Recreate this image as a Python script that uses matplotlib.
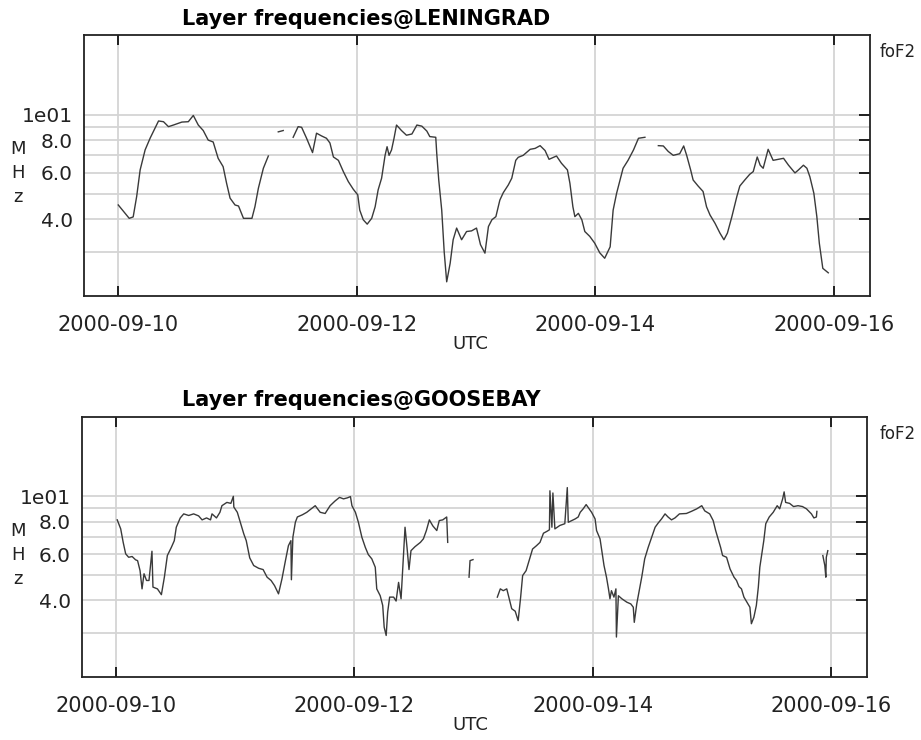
import numpy as np
import pandas as pd
import matplotlib
matplotlib.use("Agg")
import matplotlib.pyplot as plt
from matplotlib.ticker import FixedLocator, NullFormatter

nan = np.nan

# hours after 2000-09-10 00:00 UTC, foF2 in MHz (nan = no data)
len_hours = [0.0, 2.2, 3.0, 3.7, 4.4, 5.4, 6.4, 7.4, 8.1, 9.1, 10.1, 11.1, 12.8, 14.1,
             15.1, 16.1, 17.1, 18.1, 19.1, 20.1, 21.1, 21.8, 22.5, 23.5, 24.2, 25.2,
             26.9, 27.5, 28.2, 29.2, 30.2, 31.2, 32.2, 33.2, 34.2, 35.2, 36.2, 36.9,
             37.9, 39.1, 39.9, 40.9, 41.9, 42.6, 43.3, 44.3, 45.3, 46.3, 47.3, 48.2,
             48.6, 49.3, 50.1, 51.0, 51.7, 52.3, 53.0, 53.7, 54.1, 54.5, 55.0, 55.5,
             56.0, 57.0, 58.0, 59.1, 60.1, 61.1, 62.1, 62.7, 63.9, 64.1, 64.5, 65.1,
             65.6, 66.1, 66.8, 67.4, 68.1, 69.1, 70.1, 71.1, 72.1, 72.9, 73.8, 74.5,
             75.2, 76.0, 76.8, 77.5, 78.5, 79.2, 80.0, 80.5, 81.5, 82.9, 83.9, 84.9,
             85.9, 86.7, 87.6, 88.2, 89.2, 90.4, 90.9, 91.5, 91.9, 92.6, 93.3, 93.9,
             94.9, 95.9, 96.9, 97.9, 99.0, 99.6, 100.3, 101.0, 101.6, 102.6, 103.7,
             104.7, 106.0, 107.3, 108.7, 109.7, 110.7, 111.7, 113.0, 113.8, 114.4,
             115.2, 115.7, 116.7, 117.7, 118.4, 119.1, 120.1, 121.1, 121.9, 122.6,
             123.5, 124.5, 125.1, 126.1, 127.1, 127.8, 128.6, 129.2, 129.8, 130.8,
             131.8, 132.8, 133.9, 134.9, 136.2, 136.9, 137.9, 138.6, 139.2, 140.0,
             140.6, 141.1, 141.8, 142.9]
len_mhz = [4.53, 4.03, 4.08, 4.88, 6.16, 7.34, 8.13, 8.88, 9.46, 9.4, 9.0, 9.13, 9.37, 9.4,
           9.93, 9.13, 8.7, 8.0, 7.87, 6.82, 6.34, 5.48, 4.81, 4.53, 4.49, 4.03,
           4.03, 4.46, 5.25, 6.25, 6.96, nan, 8.6, 8.7, nan, 8.2, 9.0, 8.95,
           8.13, 7.17, 8.5, 8.3, 8.13, 7.8, 6.9, 6.7, 6.07, 5.56, 5.2, 4.95,
           4.33, 3.98, 3.83, 4.03, 4.46, 5.17, 5.73, 7.0, 7.55, 7.0, 7.34, 8.13,
           9.13, 8.7, 8.35, 8.44, 9.13, 9.04, 8.66, 8.25, 8.2, 7.1, 5.64, 4.33,
           3.0, 2.31, 2.72, 3.34, 3.7, 3.34, 3.59, 3.61, 3.7, 3.2, 2.97, 3.75,
           3.98, 4.09, 4.73, 5.05, 5.4, 5.73, 6.7, 6.88, 7.0, 7.38, 7.44, 7.62,
           7.3, 6.76, 6.88, 6.96, 6.53, 6.16, 5.48, 4.46, 4.09, 4.21, 3.98, 3.59,
           3.44, 3.24, 2.98, 2.84, 3.14, 4.33, 5.02, 5.64, 6.25, 6.7, 7.34,
           8.13, 8.2, nan, 7.62, 7.6, 7.24, 7.0, 7.1, 7.6, 7.0,
           6.16, 5.64, 5.35, 5.1, 4.46, 4.15, 3.86, 3.54, 3.34, 3.54,
           4.09, 4.88, 5.35, 5.64, 5.93, 6.07, 6.9, 6.42, 6.25, 7.38,
           6.7, 6.76, 6.82, 6.42, 6.0, 6.16, 6.42, 6.25, 5.8, 5.02,
           4.09, 3.24, 2.6, 2.5]

goose_hours = [0.2, 0.9, 1.4, 1.9, 2.5, 3.2, 3.9, 4.3, 4.8, 5.2, 5.6, 6.1, 6.6, 6.9, 7.2,
               7.4, 8.3, 9.1, 9.7, 10.3, 11.1, 11.7, 12.1, 12.9, 13.6, 14.6, 15.6, 16.6,
               17.3, 18.2, 19.0, 19.3, 20.2, 20.9, 21.3, 22.3, 23.1, 23.6, 23.7, 24.4,
               25.0, 25.7, 26.2, 26.9, 27.7, 28.7, 29.6, 30.4, 31.2, 31.9, 32.7, 33.4,
               34.1, 34.7, 35.2, 35.3, 35.6, 36.1, 36.5, 37.5, 38.4, 39.1, 40.1, 41.1,
               42.1, 43.1, 44.1, 45.0, 45.8, 46.6, 47.2, 47.5, 48.2, 48.8, 49.5, 50.2,
               50.8, 51.5, 52.2, 52.5, 53.2, 53.7, 54.0, 54.4, 54.7, 55.1, 55.9, 56.4,
               56.9, 57.4, 57.8, 58.2, 58.6, 59.0, 59.4, 60.2, 61.3, 61.9, 62.5, 63.1,
               63.8, 64.6, 65.1, 65.8, 66.6, 66.8, 69.0, 71.1, 71.3, 71.9, 74.0, 76.8,
               77.4, 78.0, 78.7, 79.2, 79.7, 80.4, 81.0, 81.5, 81.9, 82.6, 83.3, 83.9,
               84.7, 85.4, 86.1, 86.8, 87.3, 87.4, 87.8, 88.0, 88.4, 89.4, 90.4, 90.9,
               91.1, 91.8, 92.5, 93.1, 93.5, 94.1, 94.7, 95.3, 95.8, 96.5, 96.8, 97.5,
               97.8, 98.3, 98.8, 99.2, 99.5, 99.8, 100.3, 100.7, 100.8, 101.2, 101.9,
               102.9, 103.7, 104.2, 104.4, 104.9, 105.4, 105.9, 106.5, 107.2, 107.9,
               108.6, 109.2, 109.9, 110.6, 111.2, 111.9, 112.6, 113.5, 114.9, 115.9,
               117.0, 118.0, 118.6, 119.6, 120.3, 120.8, 121.3, 121.8, 122.2, 123.0,
               123.7, 124.5, 125.0, 125.5, 126.0, 126.5, 127.1, 127.7, 128.0, 128.5,
               129.0, 129.4, 129.7, 130.2, 130.5, 130.9, 131.6, 132.4, 133.2, 133.7,
               134.3, 134.6, 134.9, 135.7, 136.5, 137.4, 138.3, 139.1, 140.1, 140.6,
               141.1, 141.2, 141.8, 142.4, 142.8, 143.0, 143.1, 143.4]
goose_mhz = [8.13, 7.51, 6.67, 6.03, 5.85, 5.89, 5.72, 5.68, 5.2, 4.43, 5.06, 4.77, 4.77, 5.44, 6.17,
             4.5, 4.43, 4.21, 4.91, 5.94, 6.38, 6.77, 7.62, 8.27, 8.57, 8.45, 8.57, 8.42,
             8.13, 8.27, 8.13, 8.57, 8.27, 8.69, 9.21, 9.48, 9.4, 10.0, 9.1, 8.69,
             7.96, 7.19, 6.77, 5.82, 5.44, 5.31, 5.25, 4.91, 4.77, 4.56, 4.24, 4.84,
             5.68, 6.48, 6.77, 4.8, 6.98, 7.96, 8.34, 8.5, 8.69, 8.9, 9.21, 8.69,
             8.6, 9.21, 9.6, 9.91, 9.78, 9.87, 9.98, 9.21, 8.69, 7.96, 6.98, 6.38,
             5.99, 5.77, 5.36, 4.43, 4.17, 3.83, 3.16, 2.94, 3.61, 4.12, 4.12, 3.98,
             4.69, 4.06, 5.52, 7.62, 6.38, 5.25, 6.2, 6.42, 6.67, 6.88, 7.4, 8.13,
             7.71, 7.4, 8.08, 8.13, 8.34, 6.67, nan, 4.91, 5.68, 5.73, nan, 4.12,
             4.43, 4.36, 4.43, 4.06, 3.72, 3.64, 3.35, 4.12, 4.98, 5.2, 5.77, 6.29,
             6.48, 6.67, 7.23, 7.35, 7.45, 10.5, 7.62, 10.3, 7.51, 7.74, 7.86, 10.8,
             7.96, 8.08, 8.2, 8.34, 8.69, 8.96, 9.3, 8.96, 8.69, 8.2, 7.4, 6.88,
             6.29, 5.44, 4.91, 4.43, 4.06, 4.36, 4.12, 4.43, 2.9, 4.17, 4.06,
             3.94, 3.88, 3.77, 3.3, 3.88, 4.36, 4.91, 5.77, 6.38, 6.98,
             7.62, 7.9, 8.2, 8.57, 8.34, 8.13, 8.27, 8.57, 8.6, 8.76,
             8.96, 9.21, 8.8, 8.57, 8.08, 7.4, 6.88, 6.38, 5.94, 5.85,
             5.28, 4.91, 4.77, 4.52, 4.43, 4.12, 3.94, 3.77, 3.26, 3.45,
             3.83, 4.5, 5.36, 6.2, 6.77, 7.86, 8.34, 8.69, 9.21, 8.96,
             9.78, 10.4, 9.48, 9.4, 9.14, 9.21, 9.14, 8.96, 8.57, 8.27,
             8.34, 8.76, nan, 5.94, 5.44, 4.91, 5.85, 6.2]

stations = ["LENINGRAD", "GOOSEBAY"]
date_ticks = ["2000-09-10", "2000-09-12", "2000-09-14", "2000-09-16"]
y_major = [4, 6, 8, 10]
y_major_labels = ["4.0", "6.0", "8.0", "1e01"]
y_minor = [3, 5, 7, 9]

t0 = pd.Timestamp("2000-09-10")


def to_time(hours):
    return t0 + pd.to_timedelta(np.array(hours), unit="h")


W, H = 921, 740
fig = plt.figure(figsize=(W / 100, H / 100), dpi=100)

# axes boxes in pixels: left, top, right, bottom
boxes = [(84, 35, 870, 296), (82, 417, 867, 677)]
series = [(len_hours, len_mhz), (goose_hours, goose_mhz)]
title_pos = [(366, 19), (361, 400)]
line_col = "#3a3a3a"
grid_col = "#d4d4d4"
text_col = "#222222"

for i, (box, (hrs, vals)) in enumerate(zip(boxes, series)):
    l, t, r, b = box
    ax = fig.add_axes([l / W, 1 - b / H, (r - l) / W, (b - t) / H])
    ax.plot(to_time(hrs), vals, color=line_col, lw=1.0)
    ax.set_yscale("log")
    ax.set_ylim(2.04, 20.1)
    ax.set_xlim(t0 - pd.Timedelta(hours=6.9), t0 + pd.Timedelta(hours=151.3))

    ax.yaxis.set_major_locator(FixedLocator(y_major))
    ax.set_yticklabels(y_major_labels)
    ax.yaxis.set_minor_locator(FixedLocator(y_minor))
    ax.yaxis.set_minor_formatter(NullFormatter())
    ax.tick_params(axis="y", which="major", left=False, right=True, direction="in",
                   length=8, width=1.2, labelsize=14.5, pad=8, labelcolor=text_col)
    ax.tick_params(axis="y", which="minor", left=False, right=False, length=0)

    xt = [pd.Timestamp(d) for d in date_ticks]
    ax.set_xticks(xt)
    ax.set_xticklabels(date_ticks)
    ax.tick_params(axis="x", top=True, bottom=True, direction="in", length=7,
                   width=1.2, labelsize=15, pad=14, labelcolor=text_col)

    ax.grid(True, which="both", axis="y", color=grid_col, lw=1.3)
    ax.grid(True, which="major", axis="x", color=grid_col, lw=1.3)
    ax.set_axisbelow(True)
    for s in ax.spines.values():
        s.set_linewidth(1.3)
        s.set_color("#222222")

    fig.text(title_pos[i][0] / W, 1 - title_pos[i][1] / H,
             "Layer frequencies@" + stations[i], ha="center", va="center",
             fontsize=15, fontweight="bold")
    fig.text(880 / W, 1 - (t + 17) / H, "foF2", ha="left", va="center",
             fontsize=12, color=text_col)
    fig.text(18 / W, 1 - (t + 138) / H, "M\nH\nz", ha="center", va="center",
             fontsize=13, linespacing=1.45, color=text_col)
    fig.text(470 / W, 1 - (b + 48) / H, "UTC", ha="center", va="center",
             fontsize=13, color=text_col)

fig.savefig("out.png", dpi=100)
